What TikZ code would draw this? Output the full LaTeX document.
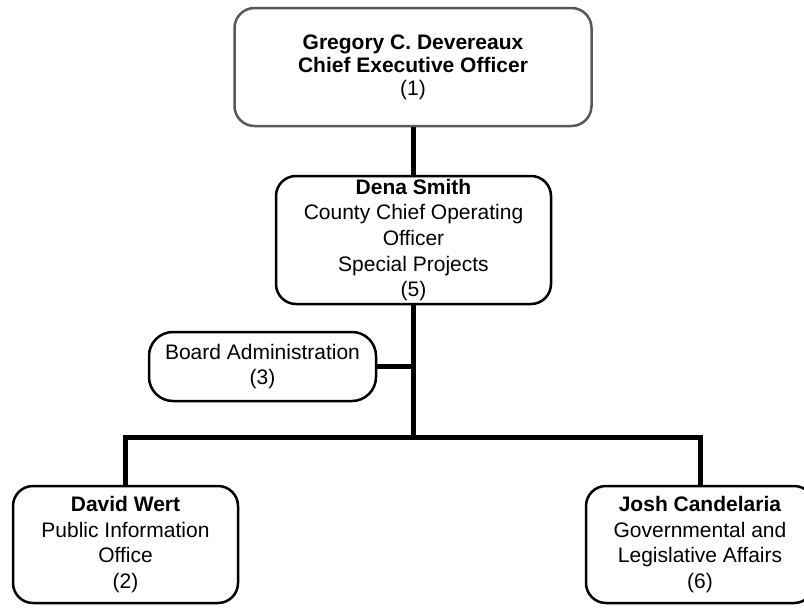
\documentclass[tikz,border=0pt]{standalone}
\usepackage{fontspec}
\setmainfont{Liberation Sans}
\usetikzlibrary{positioning}

\begin{document}
\begin{tikzpicture}[x=1pt,y=-1pt,
  unit/.style={draw, line width=2.5pt, rounded corners=20pt, align=center, inner sep=0pt,
    font=\fontsize{21}{25.7}\selectfont},
  link/.style={line width=5pt}]
\useasboundingbox (0,0) rectangle (804,608);
\node[unit, draw=black!65, minimum width=357pt, minimum height=118pt,
  font=\fontsize{21}{23}\selectfont] (ceo) at (413,67)
  {\textbf{Gregory C. Devereaux}\\ \textbf{Chief Executive Officer}\\ (1)};
\node[unit, minimum width=275pt, minimum height=128pt] (coo) at (413.5,240)
  {\textbf{Dena Smith}\\ County Chief Operating\\ Officer\\ Special Projects\\ (5)};
\node[unit, rounded corners=24pt, minimum width=227pt, minimum height=69pt] (board) at (262.5,366.5)
  {Board Administration\\ (3)};
\node[unit, minimum width=225pt, minimum height=117pt] (pio) at (125.5,544.5)
  {\textbf{David Wert}\\ Public Information\\ Office\\ (2)};
\node[unit, minimum width=228pt, minimum height=117pt] (gla) at (700,544.5)
  {\textbf{Josh Candelaria}\\ Governmental and\\ Legislative Affairs\\ (6)};
\coordinate (bus) at (413.5,437);
% reporting lines
\draw[link] (coo.north) -- (coo.north |- ceo.south);
\draw[link] (coo.south) -- (bus);
\draw[link] (board.east) -- (board.east -| bus);
\draw[link] (pio.north) |- (bus) -| (gla.north);
\end{tikzpicture}
\end{document}
